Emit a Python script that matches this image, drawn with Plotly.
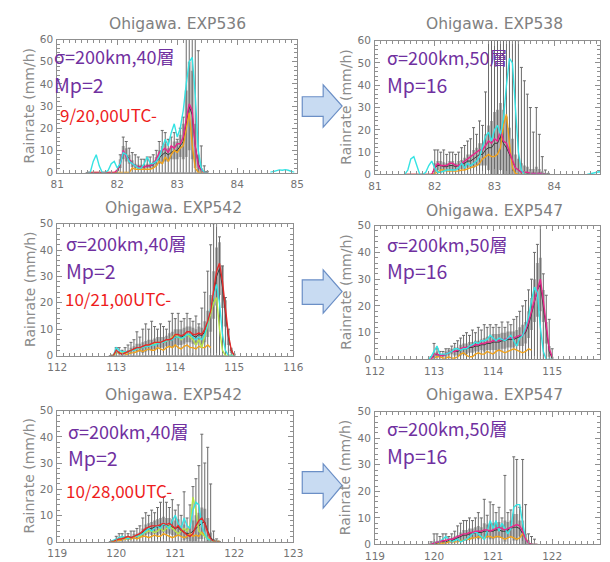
import plotly.graph_objects as go

# ---------------- data (time grid step 0.05 day) ----------------
STEP = 0.05

# Panel 1: Ohigawa. EXP536 (grid starts 81.50)
P1_T0 = 81.50
E1_MEAN = [0,0,0,0,0,0,0,0,0,0, 0,4,9,8,6,4,3,2.5,2.5,2.5, 3,3,3.5,5,7,8,9,8,9,10, 10,12,14,22,30,26,12,4,1,0.3, 0]
E1_TOP = [0,0,0,0,0,0,0,0,0,0, 1,8,16,14,11,9,8,7,6,6, 7,7,8,10,14,19,18,15,16,18, 15,20,25,70,70,70,70,55,12,3, 0.5]
E1_BOX = [0,0,0,0,0,0,0,0,0,0, 0,2,3,3,2,1.5,1,1,1,1, 1,1,1.5,2,3,4,4,3,3,4, 4,5,8,15,20,20,10,4,1,0.3, 0]
E1_MAG = [0,0,0,0,0,0,0,0,0,0, 1,4,10,7,6,4,3,2.5,2.5,2.5, 3,3,4,6,9,10,11,9,12,11, 13,13,16,24,31,28,12,3,1,0, 0]
E1_CYA = [0,0,5,8,3,0,0,1,4,5, 2,4,9,8,5,4,3,2,2,4, 7,4,4,5,7,11,15,12,18,22, 16,20,28,40,50,52,35,10,2,0, 0]
E1_ORA = [0,0,0,0,0,0,0,0,0,0, 0,0,0,0,0,2,1.5,1.5,1.5,1.5, 1.5,1.5,2,3,5,4,7,5,8,10, 9,11,12,20,27,12,2,0,0,0, 0]
E1_CYA_TAIL_T0 = 84.55
E1_CYA_TAIL = [0, 0.5, 1, 1.2, 1, 1.3, 1, 0.5, 0]

# Panel 2: Ohigawa. EXP538 (grid starts 81.50)
P2_T0 = 81.50
E2_MEAN = [0,0,0,0,0,0,0,0,0,0, 3,4,4,3.5,3.5,4,4,3.5,4,4.5, 5,6,6,7,8,9,9,11,12,12, 14,14,17,14,12,9,6,3,2,1, 1,0.5,0.5,0.5,0.5,0.5,0.5,0,0]
E2_TOP = [0,0,0,0,0,0,0,0,0,0, 11,11,10,11,9,10,10,9,10,12, 13,15,16,21,18,24,22,37,70,70, 70,70,70,70,70,70,70,70,60,48, 42,36,30,19,30,18,8,2,0.5]
E2_BOX = [0,0,0,0,0,0,0,0,0,0, 2,2,2,2,1.5,2,2,1.5,2,2, 2.5,3,3,4,4,5,5,7,10,12, 14,15,15,15,14,12,10,6,5,4, 3,3,2,2,3,2,1,0.5,0]
E2_MAG = [0,0,0,0,0,0,0,0,0,0, 3,5,4,4,4,5,5,4,4,5, 6,7,8,9,10,11,11,13,15,14, 16,15,20,15,14,10,6,3,2,1, 1,1,0.5,0.5,0.5,0.5,0.5,0,0]
E2_CYA = [0,2,7,8,4,0,0,1,4,6, 3,1,1,1.5,2,2,2,2,3,5, 3,5,4,5,6,8,12,17,19,15, 20,22,18,25,40,52,50,30,10,2, 0,0,0,0,0,0,0,0,0]
E2_ORA = [0,0,0,0,0,0,0,0,0,0, 0.5,1,2,2,1.5,1.5,1.5,1.5,1.5,2, 2,2.5,3,3.5,4,5,7,8,9,8, 8,9,12,22,27,14,3,0.5,0,0, 0,0,0,0,0,0,0,0,0]
E2_CYA_TAIL_T0 = 84.55
E2_CYA_TAIL = [0, 0.3, 0.8, 1, 1.2, 1, 1.1, 1, 1]

# Panel 3: Ohigawa. EXP542 (grid starts 112.90)
P3_T0 = 112.90
E3_MEAN = [0,0,2,1,0.5,1,1.5,2,2.5,3, 3,3,3.5,4,4,4.5,5,5,5,5.5, 6,6,7,7,7,7.5,8,8,7.5,7, 8,7.5,9,12,16,23,30,33,26,16, 7,2,0]
E3_TOP = [0,0,3,3,2,3,4,5,6,9, 7,10,12,10,13,11,10,12,11,10, 13,16,14,16,13,14,16,14,13,15, 12,18,24,32,42,50,55,45,34,22, 10,2,0.5]
E3_BOX = [0,0,1,0.5,0.5,0.5,0.5,1,1,1.5, 1.5,2,2,2,2,2,2,2,2,2, 2.5,3,3,3,3,3,3,3,3,3, 3,3,4,5,7,9,11,10,8,5, 3,1,0]
E3_RED = [0,0,2,1,0.5,1,1.5,2,2.5,3, 3,3.5,4,4,4.5,5,5,5,5.5,6, 6,6.5,8,8,7.5,8,9,9,8,8, 8.5,8,10,13,17,25,32,35,28,18, 8,2,0]
E3_CYA = [0,0,3,2,1.5,1.5,1.5,2,2,2.5, 3,3,3.5,3.5,4,4,4.5,5,5,5.5, 6,6,7,7,6.5,7,8,8,7,6, 7,6,8,12,18,23,27,20,8,2, 0,0,0]
E3_GRN = [0,0,1,1,1,1,1.5,2,2,2.5, 3,3,3.5,4,4,4.5,5,5,5,5.5, 6,7,8,7,6,7,8,7,6,4, 6,3,7,11,15,20,22,10,2,0, 0,0,0]
E3_ORA = [None,None,None,None,None,0.5,0.5,1,1,1.5, 2,1.5,2,2.5,2,2,3,2.5,2,3, 3.5,3,4,3,2.5,3.5,4,3,3,2.5, 3.5,3,3,4,3,None,None,None,None,None, None,None,None]

# Panel 4: Ohigawa. EXP547 (grid starts 112.90)
P4_T0 = 112.90
E4_MEAN = [0,0,1.5,2,1.5,1.5,2,2.5,3,3, 3,3.5,4,4,4.5,4.5,5,5,5.5,5.5, 6,6,6.5,6.5,6.5,7,7,7.5,7.5,7.5, 8,8.5,9,10,13,17,22,26,28,20, 10,3,0.5]
E4_TOP = [0,1,6,4,3,3,4,4,5,6, 7,8,9,10,9,11,10,12,11,13, 12,13,12,13,12,14,12,14,13,15, 16,18,20,22,26,30,40,43,50,32, 24,15,4]
E4_BOX = [0,0,1,1,0.5,0.5,1,1,1,1.5, 1.5,2,2,2,2,2,2,2,2,2.5, 2.5,2.5,3,3,3,3,3,3,3,3, 3,3.5,4,4,5,6,8,10,10,6, 4,2,0.5]
E4_MAG = [0,0,2,2,1.5,1.5,2,2.5,3,3, 3.5,4,4.5,4.5,5,5,5.5,5.5,6,6, 6.5,6.5,7,7,7,7.5,7.5,8,8,8, 8.5,9,9,11,14,18,22,27,30,22, 12,4,1]
E4_CYA = [0,1,3,5,2,2,2,2.5,3,4, 4,3.5,4,4,5,5.5,6.5,6,7,7, 7.5,9,8,7,8,7.5,7,8,9,7, 5,8,9,12,16,22,27,25,12,3, 0,0,0]
E4_ORA = [None,None,0.5,1,1,0.5,0.5,1,0.5,0.5, 1,2,2.5,1.5,1,1,2,2.5,2,2, 3,2.5,2,3,3.5,3,2.5,3,3.5,4, 3.5,3,2.5,3,4,3.5,None,None,None,None, None,None,None]

# Panel 5: Ohigawa. EXP542 (grid starts 119.90)
P5_T0 = 119.90
E5_MEAN = [0,0,0.5,1,1,1.5,1.5,1.5,2,2, 2.5,3.5,4.5,5,5,5.5,5.5,6,6.5,6, 6,5.5,5,5.5,4,3.5,3,3,4,5, 6,7,7.5,4,1.5,0.5,0,0]
E5_TOP = [0,0,2,3,3,4,3,4,4,5, 6,9,11,10,12,11,13,15,17,15, 13,16,12,14,10,19,9,14,21,24, 29,41,30,36,22,4,1,0]
E5_BOX = [0,0,0.5,0.5,0.5,0.5,0.5,0.5,1,1, 1,1.5,2,2,2.5,2.5,3,3,3,3, 3,3,3,3,2,3,2,3,4,5, 5,6,5,5,2,0.5,0,0]
E5_RED = [0,0,0.5,1,1,1.5,2,1.5,2,2.5, 3,4,5,5.5,6,6,6,6.5,7,6.5, 7,6,5,6,4.5,3.5,2.5,2,3,6, 8,9,7,3.5,1,0,0,0]
E5_CYA = [0,0.5,1,1.5,2,1.5,1,1.5,2,2, 2.5,3,4,5,4,5,6,5,7,6, 5,8,10,7,5,9,6,5,12,15, 14,6,3,1,0.5,0,0,0]
E5_GRN = [0,0,0.5,1,1,1,1.5,1.5,2,2, 2,3,3.5,4,4,3.5,4,5,4,5, 6,5,4,3,4,5,4,6,17,12, 4,3,2,1,0.5,0,0,0]
E5_ORA = [0,0,0,0.5,0.5,1,1,1,1.5,1, 1.5,2,2,1.5,2,2.5,2,2,3,2.5, 2,1.5,2,2.5,2,1.5,2,3,2,2.5, 2,3.5,2.5,1.5,0.5,0,0,0]

# Panel 6: Ohigawa. EXP547 (grid starts 119.90)
P6_T0 = 119.90
E6_MEAN = [0,0,0.5,0.5,1,1,1,1.5,1.5,2, 2.5,3,3.5,3.5,4,4,4.5,4.5,4.5,5, 5,5,5,5.5,5.5,5,5,5.5,6,6.5, 6.5,6,4,2,0.5,0,0,0]
E6_TOP = [0,1,4,4,3,4,4,3,4,5, 7,8,9,9,10,9,10,12,10,17, 11,16,15,12,14,10,26,12,13,33, 32,14,32,15,4,3,2,0]
E6_BOX = [0,0,0.5,0.5,0.5,0.5,0.5,0.5,1,1, 1,1.5,2,2,2,2,2,2.5,2,3, 2.5,3,3,3,3,2.5,4,3,3,5, 5,3,5,2,1,0.5,0,0]
E6_MAG = [0,0,0.5,1,1,1.5,1.5,2,2,2.5, 3,3.5,4,4,4.5,4.5,5,5,5,5.5, 5.5,5,5.5,6,6.5,6,5.5,6,6.5,7, 7.5,7,5,2,0.5,0,0,0]
E6_CYA = [0,0,0.5,1,1,2,3,2,1,1.5, 2,1,1.5,2,3,4,5,4,3,2, 5,9,6,9,5,8,6,4,6,14, 15,15,8,2,0.5,0,0,0]
E6_ORA = [0,0,0,0,0.5,0.5,0.5,1,1,1, 1,1.5,1.5,2,2,2.5,2.5,3,2.5,2.5, 3,3,2.5,3,3,2.5,2,2.5,3,2.5, 2,2.5,4,2.5,0.5,0,0,0]

TITLES = ["Ohigawa. EXP536", "Ohigawa. EXP538", "Ohigawa. EXP542",
          "Ohigawa. EXP547", "Ohigawa. EXP542", "Ohigawa. EXP547"]
LABEL_40 = "σ=200km,40層"
LABEL_50 = "σ=200km,50層"
MP_LEFT = "Mp=2"
MP_RIGHT = "Mp=16"
DATES = ["9/20,00UTC-", "10/21,00UTC-", "10/28,00UTC-"]
YTITLE = "Rainrate (mm/h)"

# ---------------- colours ----------------
C_CYA = "#35e3e3"
C_MAG = "#e8268c"
C_RED = "#e42a2a"
C_ORA = "#f0a21c"
C_GRN = "#b5e24a"
C_MEAN = "#3a3a3a"
C_ERR = "#6a6a6a"
C_BOX = "rgba(150,150,150,0.75)"
C_AX = "#8f8f8f"
C_TXT = "#737373"

W, H = 610, 562
# the photographed page shows the viewport slightly inset; positions below are
# given in target-picture pixels and mapped back into the viewport
AX, SX = 8.6, 0.971
AY, SY = 4.8, 0.980
def fx(p): return min(max((p - AX) / SX / W, 0.0), 1.0)
def fy(p): return min(max(1 - (p - AY) / SY / H, 0.0), 1.0)
def px_of_fx(f): return AX + SX * W * f

# panel layout in target pixels: (left, right, top, bottom), x start, px per unit, y range
PANELS = [
    dict(box=(56, 297, 39, 174), x0=81, ppu=60.25, yr=[0, 60], t0=P1_T0, mean=E1_MEAN, top=E1_TOP, iqr=E1_BOX,
         lines=[(E1_ORA, C_ORA), (E1_MAG, C_MAG), (E1_CYA, C_CYA)], tail=(E1_CYA_TAIL_T0, E1_CYA_TAIL)),
    dict(box=(375, 610, 40, 176), x0=81, ppu=60.0, yr=[0, 60], t0=P2_T0, mean=E2_MEAN, top=E2_TOP, iqr=E2_BOX,
         lines=[(E2_ORA, C_ORA), (E2_MAG, C_MAG), (E2_CYA, C_CYA)], tail=(E2_CYA_TAIL_T0, E2_CYA_TAIL)),
    dict(box=(56, 293, 226, 360), x0=112, ppu=59.25, yr=[0, 50], t0=P3_T0, mean=E3_MEAN, top=E3_TOP, iqr=E3_BOX,
         lines=[(E3_ORA, C_ORA), (E3_GRN, C_GRN), (E3_CYA, C_CYA), (E3_RED, C_RED)], tail=None),
    dict(box=(375, 610, 228, 364), x0=112, ppu=59.3, yr=[0, 50], t0=P4_T0, mean=E4_MEAN, top=E4_TOP, iqr=E4_BOX,
         lines=[(E4_ORA, C_ORA), (E4_MAG, C_MAG), (E4_CYA, C_CYA)], tail=None),
    dict(box=(56, 293, 416, 549), x0=119, ppu=59.25, yr=[0, 50], t0=P5_T0, mean=E5_MEAN, top=E5_TOP, iqr=E5_BOX,
         lines=[(E5_ORA, C_ORA), (E5_GRN, C_GRN), (E5_CYA, C_CYA), (E5_RED, C_RED)], tail=None),
    dict(box=(375, 610, 417, 552), x0=119, ppu=59.3, yr=[0, 50], t0=P6_T0, mean=E6_MEAN, top=E6_TOP, iqr=E6_BOX,
         lines=[(E6_ORA, C_ORA), (E6_CYA, C_CYA), (E6_MAG, C_MAG)], tail=None),
]

fig = go.Figure()
layout = {}

for i, p in enumerate(PANELS):
    n = "" if i == 0 else str(i + 1)
    xa, ya = "x" + n, "y" + n
    l, r, t, b = p["box"]
    dl, dr = fx(l), fx(r)
    x_end = p["x0"] + (px_of_fx(dr) - l) / p["ppu"]
    grid = [round(p["t0"] + k * STEP, 3) for k in range(len(p["mean"]))]
    up = [max(tp - m, 0) for tp, m in zip(p["top"], p["mean"])]
    # inter-quartile boxes (thick bars around the ensemble mean)
    fig.add_trace(go.Scatter(
        x=grid, y=p["mean"], mode="lines", xaxis=xa, yaxis=ya,
        line=dict(color="rgba(0,0,0,0)", width=0), showlegend=False, hoverinfo="skip",
        error_y=dict(type="data", symmetric=True, array=p["iqr"],
                     color=C_BOX, thickness=3, width=0)))
    # mean with whiskers
    fig.add_trace(go.Scatter(
        x=grid, y=p["mean"], mode="lines", xaxis=xa, yaxis=ya,
        line=dict(color=C_MEAN, width=1), showlegend=False,
        error_y=dict(type="data", symmetric=False, array=up, arrayminus=p["mean"],
                     color=C_ERR, thickness=1, width=1.5)))
    for vals, col in p["lines"]:
        fig.add_trace(go.Scatter(
            x=grid, y=vals, mode="lines", xaxis=xa, yaxis=ya,
            line=dict(color=col, width=1.4), showlegend=False, connectgaps=False))
    if p["tail"]:
        t0, vals = p["tail"]
        fig.add_trace(go.Scatter(
            x=[round(t0 + k * STEP, 3) for k in range(len(vals))], y=vals, mode="lines",
            xaxis=xa, yaxis=ya, line=dict(color=C_CYA, width=1.4), showlegend=False))
    common = dict(showline=True, linecolor=C_AX, linewidth=1, mirror="allticks",
                  ticks="inside", ticklen=5, tickcolor=C_AX, showgrid=False,
                  zeroline=False, tickfont=dict(family="DejaVu Sans", size=10.5, color=C_TXT))
    layout["xaxis" + n] = dict(common, domain=[dl, dr], range=[p["x0"], x_end], anchor=ya,
                               dtick=1, tick0=0, ticklabelstandoff=2,
                               minor=dict(ticks="inside", ticklen=3, tickcolor=C_AX, dtick=0.1))
    layout["yaxis" + n] = dict(common, domain=[fy(b), fy(t)], range=p["yr"], anchor=xa,
                               dtick=10, tick0=0, ticklabelstandoff=1,
                               minor=dict(ticks="inside", ticklen=3, tickcolor=C_AX, dtick=2))

fig.update_layout(**layout)

ann = []
def add_text(text, x, y, size, color, family="DejaVu Sans", xanchor="center", angle=0):
    ann.append(dict(text=text, x=fx(x), y=fy(y), xref="paper", yref="paper",
                    xanchor=xanchor, yanchor="middle", showarrow=False, textangle=angle,
                    font=dict(family=family, size=size, color=color)))

# panel titles
TPOS = [(177, 23), (495, 23), (173, 210), (495, 213), (173, 400), (495, 400)]
for txt, (x, y) in zip(TITLES, TPOS):
    add_text(txt, x, y, 15.5, "#808080")

# y-axis titles
for (l, r, t, b) in [p["box"] for p in PANELS]:
    add_text(YTITLE, l - 28 if l < 100 else l - 30, (t + b) / 2, 14, "#8c8c8c", angle=-90)

CJK = "Noto Sans CJK JP"
PURPLE = "#7030a0"
# left column labels
for (y1, y2, y3, xl, xr_), date in zip([(56, 85, 115, 51, 57), (246, 274, 302, 63, 62), (437, 464, 497, 65, 63)], DATES):
    add_text(LABEL_40, xl, y1, 18, PURPLE, CJK, "left")
    add_text(MP_LEFT, xl, y2, 19.5, PURPLE, CJK, "left")
    add_text(date, xr_, y3, 17, "#ee1c1c", CJK, "left")
# right column labels
for y1, y2 in [(57, 85), (247, 274), (434, 462)]:
    add_text(LABEL_50, 385, y1, 18, PURPLE, CJK, "left")
    add_text(MP_RIGHT, 385, y2, 19.5, PURPLE, CJK, "left")

# block arrows between columns
shapes = []
for (bt, bb, ht, hb, tip) in [(97, 117, 85, 128, 106.5), (283, 308, 273, 317, 295), (478, 500, 470, 515, 492)]:
    pts = [(302, bt), (323, bt), (323, ht), (342, tip), (323, hb), (323, bb), (302, bb)]
    path = "M " + " L ".join(f"{fx(a):.5f},{fy(c):.5f}" for a, c in pts) + " Z"
    shapes.append(dict(type="path", path=path, xref="paper", yref="paper",
                       fillcolor="#c8dbf2", line=dict(color="#6b8fc6", width=1.2)))

fig.update_layout(autosize=True, margin=dict(l=0, r=0, t=0, b=0),
                  paper_bgcolor="white", plot_bgcolor="white",
                  annotations=ann, shapes=shapes, showlegend=False)

fig.write_html("out.html",
               config={"displayModeBar": False, "responsive": True},
               default_width="100vw",
               default_height="100vh; position:fixed; left:0; top:0",
               post_script="document.body.style.margin='0';document.body.style.overflow='hidden';")
